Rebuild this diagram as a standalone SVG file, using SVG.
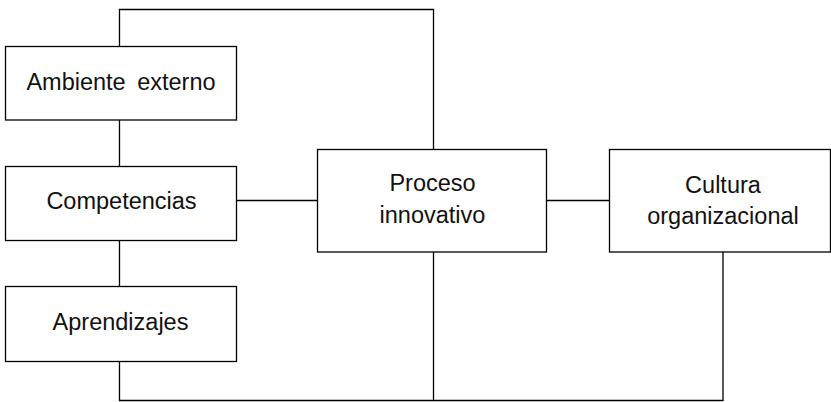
<svg xmlns="http://www.w3.org/2000/svg" width="831" height="402" viewBox="0 0 831 402">
<style>
.box{fill:#fff;stroke:#000;stroke-width:1.3}
.ln{fill:none;stroke:#000;stroke-width:1.3}
text{font-family:"Liberation Sans",Arial,Helvetica,sans-serif;font-size:23.5px;fill:#111;text-anchor:middle}
</style>
<rect width="831" height="402" fill="#fff"/>
<g id="connectors">
<path class="ln" d="M119.5 46.5 V9.5 H433.5 V149.5"/>
<path class="ln" d="M119.5 120 V166.5"/>
<path class="ln" d="M119.5 240.5 V286.5"/>
<path class="ln" d="M236.5 200.5 H317.5"/>
<path class="ln" d="M546.5 200.5 H609.5"/>
<path class="ln" d="M119.5 361.5 V400.5 H723 V252"/>
<path class="ln" d="M433.5 252 V400.5"/>
</g>
<g id="ambiente">
<rect class="box" x="5.5" y="46.5" width="231" height="73.5"/>
<text x="121" y="90" word-spacing="5">Ambiente externo</text>
</g>
<g id="competencias">
<rect class="box" x="5.5" y="166.5" width="231" height="74"/>
<text x="121.5" y="209">Competencias</text>
</g>
<g id="aprendizajes">
<rect class="box" x="5.5" y="286.5" width="231" height="75"/>
<text x="120.5" y="330">Aprendizajes</text>
</g>
<g id="proceso">
<rect class="box" x="317.5" y="149.5" width="229" height="102.5"/>
<text x="432.5" y="191">Proceso</text>
<text x="432.5" y="223">innovativo</text>
</g>
<g id="cultura">
<rect class="box" x="609.5" y="149.5" width="221" height="102.5"/>
<text x="723" y="193">Cultura</text>
<text x="723" y="224">organizacional</text>
</g>
</svg>
